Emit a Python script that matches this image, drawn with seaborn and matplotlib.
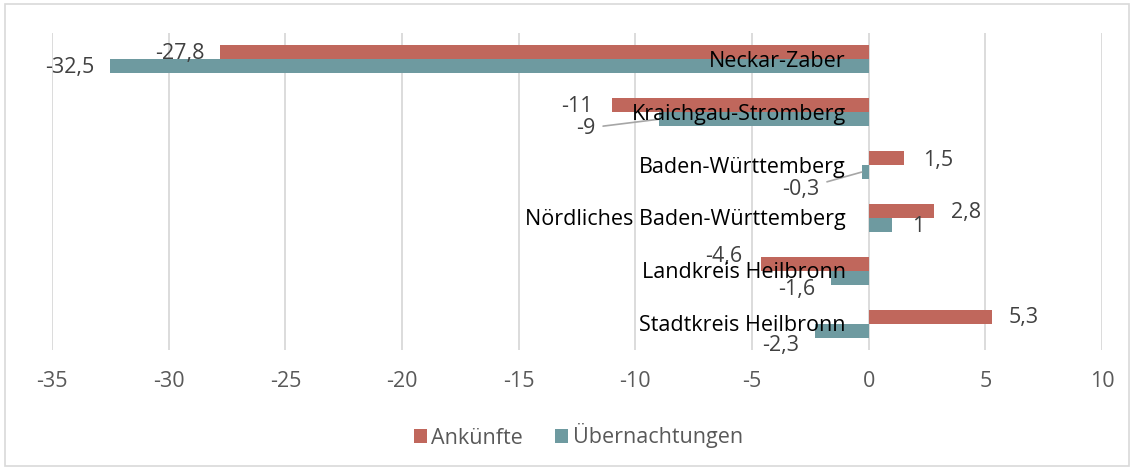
import numpy as np
import pandas as pd
import matplotlib
matplotlib.use('Agg')
import matplotlib.pyplot as plt
from matplotlib.patches import Rectangle
import seaborn as sns

# --- data ---
regions = ['Neckar-Zaber', 'Kraichgau-Stromberg', 'Baden-Württemberg',
           'Nördliches Baden-Württemberg', 'Landkreis Heilbronn', 'Stadtkreis Heilbronn']
ankuenfte = [-27.8, -11.0, 1.5, 2.8, -4.6, 5.3]
uebernachtungen = [-32.5, -9.0, -0.3, 1.0, -1.6, -2.3]
series_names = ['Ankünfte', 'Übernachtungen']
x_ticks = [-35, -30, -25, -20, -15, -10, -5, 0, 5, 10]

df = pd.DataFrame({
    'region': regions * 2,
    'value': ankuenfte + uebernachtungen,
    'series': [series_names[0]] * len(regions) + [series_names[1]] * len(regions),
})

# label offsets in pixels (dx, dy-down, ha, leader line)
red_off = [(-15, 1, 'right', False), (-19, 1, 'right', False), (19, 2, 'left', False),
           (17, 2, 'left', False), (-19, -7, 'right', False), (16, 1, 'left', False)]
teal_off = [(-16, 1, 'right', False), (-63, 9, 'right', True), (-42, 17, 'right', True),
            (20, 2, 'left', False), (-16, 12, 'right', False), (-16, 15, 'right', False)]

sns.set_theme(style='white')
plt.rcParams['font.family'] = ['Open Sans', 'DejaVu Sans']

RED, TEAL = '#C0675C', '#6E9AA0'
GRAY_TXT = '#595959'
FS = 15.5

fig = plt.figure(figsize=(11.34, 4.71), dpi=100)
ax = fig.add_axes([52/1134, 1-350/471, (1102-52)/1134, (350-33)/471])

sns.barplot(data=df, x='value', y='region', hue='series', orient='h',
            palette=[RED, TEAL], width=0.53, ax=ax, order=regions,
            hue_order=series_names, saturation=1, linewidth=0)

ax.set_xlim(-35, 10)
ax.set_ylim(5.5, -0.5)
ax.set_xticks(x_ticks)
ax.set_xticklabels([str(t) for t in x_ticks], color=GRAY_TXT, fontsize=FS)
ax.tick_params(axis='x', length=0, pad=15)
ax.set_yticks([])
ax.set_xlabel(''); ax.set_ylabel('')
ax.grid(axis='x', color='#D9D9D9', lw=1.3)
ax.set_axisbelow(True)
for s in ax.spines.values():
    s.set_visible(False)

px = 72 / 100  # pixel -> point

# data labels
for cont, vals, offs in zip(ax.containers, [ankuenfte, uebernachtungen], [red_off, teal_off]):
    for bar, v, (dx, dy, ha, lead) in zip(cont, vals, offs):
        yc = bar.get_y() + bar.get_height() / 2
        txt = f'{v:g}'.replace('.', ',')
        arrow = dict(arrowstyle='-', color='#A6A6A6', lw=1.2, shrinkA=3, shrinkB=0) if lead else None
        ax.annotate(txt, xy=(v, yc), xytext=(dx * px, -dy * px), textcoords='offset points',
                    ha=ha, va='center', fontsize=FS, color='#404040', arrowprops=arrow,
                    zorder=5)

# category labels next to zero line
for i, r in enumerate(regions):
    ax.annotate(r, xy=(0, i), xytext=(-23 * px, -2 * px), textcoords='offset points',
                ha='right', va='center', fontsize=FS, color='black', zorder=6)

# legend
handles, labels = ax.get_legend_handles_labels()
ax.legend(handles, labels, loc='center', bbox_to_anchor=(0.51, 1-436/471),
          bbox_transform=fig.transFigure, ncol=2, frameon=False, fontsize=FS,
          labelcolor=GRAY_TXT, handlelength=0.6, handleheight=0.6,
          handletextpad=0.2, columnspacing=1.5)

fig.patches.append(Rectangle((5/1134, 5/471), 1-10/1134, 1-9/471, transform=fig.transFigure,
                             fill=False, edgecolor='#D9D9D9', lw=1.2))

fig.savefig('out.png', dpi=100)
